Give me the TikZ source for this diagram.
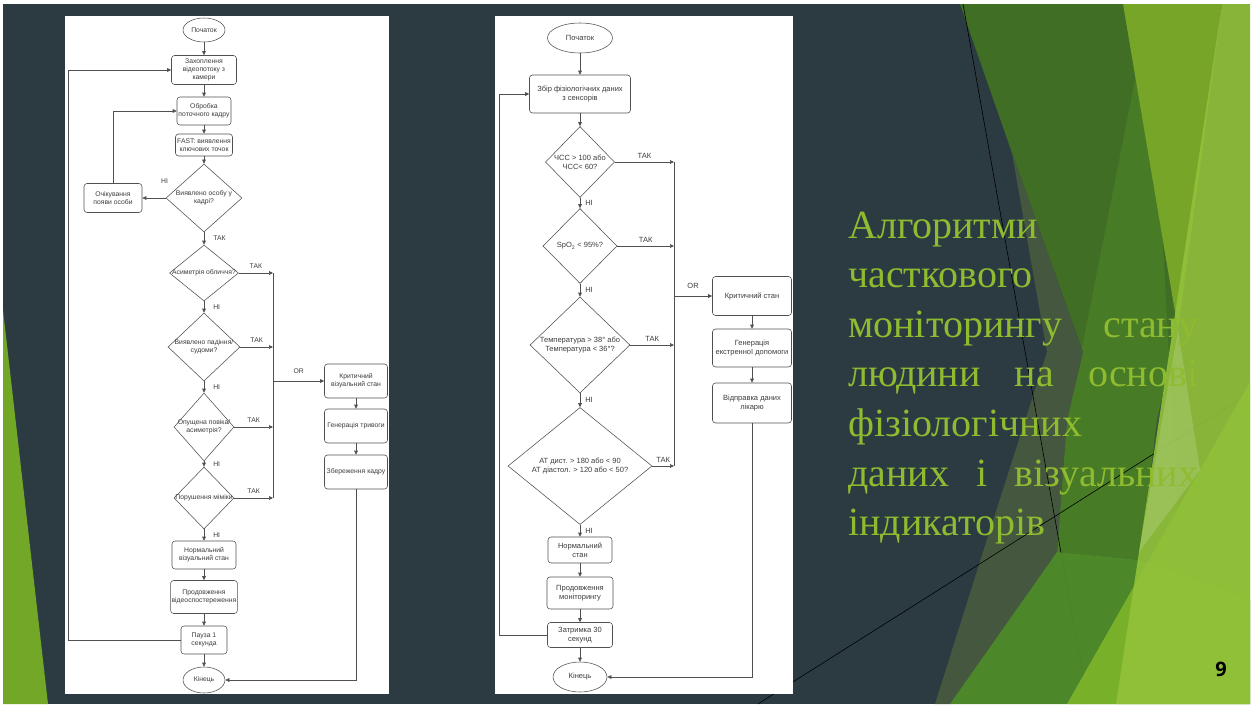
\documentclass[tikz,border=0pt]{standalone}
\usepackage{fontspec}
\setmainfont{Liberation Serif}
\newfontfamily\flowfont{Liberation Sans}
\newfontfamily\numfont{Open Sans}
\usetikzlibrary{arrows.meta}
\usetikzlibrary{shapes.geometric}
\tikzset{>={Stealth[inset=0pt,length=4pt,width=3.6pt]}}

\definecolor{slate}{HTML}{2C3B42}
\definecolor{facetdark}{HTML}{3F6E24}
\definecolor{facetgray}{HTML}{45583F}
\definecolor{facetmid}{HTML}{5C9A2A}
\definecolor{facetolive}{HTML}{76A527}
\definecolor{facetgrass}{HTML}{4F8E28}
\definecolor{facetlime}{HTML}{7DB52A}
\definecolor{facetlight}{HTML}{92C23A}
\definecolor{titlegreen}{HTML}{8FBB30}
\definecolor{flowgray}{HTML}{505050}
\definecolor{flowtext}{HTML}{3C3C3C}

\newcommand{\ctr}[1]{\makebox[0pt]{#1}}
\def\fs{6.8}
\def\fb{8}

\tikzset{
  flowbox/.style={draw=flowgray, line width=0.55pt, rounded corners=3pt, fill=white,
    inner sep=1pt, align=center, text=flowtext, font=\flowfont\fontsize{\fs}{\fb}\selectfont},
  terminal/.style={flowbox, ellipse, sharp corners},
  decision/.style={flowbox, diamond, sharp corners, inner sep=0pt},
  flowlbl/.style={font=\flowfont\fontsize{\fs}{\fb}\selectfont, text=flowtext, inner sep=1pt},
  flowarrow/.style={draw=flowgray, line width=0.55pt, ->},
  flowlink/.style={draw=flowgray, line width=0.55pt},
  titleline/.style={anchor=base west, inner sep=0pt, text=titlegreen,
    font=\fontsize{40}{49.6}\selectfont},
}

\begin{document}
\begin{tikzpicture}[x=1pt,y=-1pt]
    \useasboundingbox (0,0) rectangle (1258,704);
    % slide background
    \fill[white] (0,0) rectangle (1258,704);
    \fill[slate] (3,4) rectangle (1250,704);
    \fill[facetlime!92!black] (3,310) -- (48,704) -- (3,704) -- cycle;
    % facets on the right
    \fill[facetdark] (960,4) -- (1125,4) -- (1178,330) -- (1157,419) -- (1140,560)
        -- (1057,552) -- (1067,419) -- (1083,352) -- (1012,153) -- cycle;
    \fill[facetmid, fill opacity=0.3] (1150,4) -- (1180,560) -- (1040,560) -- cycle;
    \fill[facetgray] (1012,153) -- (1083,352) -- (1067,419) -- (1057,552) -- (950,704)
        -- (935,704) -- (983,552) -- (1047,352) -- cycle;
    \fill[facetolive] (1123,4) -- (1222,4) -- (1178,330) -- cycle;
    \draw[black, line width=0.6pt] (963,4) -- (1088,704);
    \draw[black, line width=0.6pt] (758,704) -- (1250,393);
    \fill[facetgrass, fill opacity=0.92] (950,704) -- (1057,552) -- (1140,560) -- (1250,600) -- (1250,704) -- cycle;
    \fill[facetlime, fill opacity=0.9] (1067,704) -- (1250,382) -- (1250,704) -- cycle;
    \fill[facetlight, fill opacity=0.9] (1222,4) -- (1250,4) -- (1250,704) -- (1116,704) -- cycle;
    \fill[white, fill opacity=0.15] (1178,330) -- (1200,470) -- (1139,552) -- cycle;
    % title
    \node[titleline] (ttl1) at (848,238) {Алгоритми};
    \node[titleline] (ttl2) at (848,287.6) {часткового};
    \node[titleline] (ttl3) at (848,337.2) {\hbox to 350pt{моніторингу\hfill стану}};
    \node[titleline] (ttl4) at (848,386.8) {\hbox to 350pt{людини\hfill на\hfill основі}};
    \node[titleline] (ttl5) at (848,436.4) {фізіологічних};
    \node[titleline] (ttl6) at (848,486) {\hbox to 350pt{даних\hfill і\hfill візуальних}};
    \node[titleline] (ttl7) at (848,535.6) {індикаторів};
    \node[font=\numfont\bfseries\fontsize{20}{24}\selectfont] (pagenum) at (1221,669) {9};

    % panels
    \fill[white] (65,16) rectangle (389,694);
    \fill[white] (495,16) rectangle (793,694);

    % visual indicators
    \node[terminal, minimum width=42pt, minimum height=24pt] (lstart) at (204,30) {Початок};
    \node[flowbox, minimum width=65pt, minimum height=29pt] (lcap) at (204,70) {Захоплення\\відеопотоку з\\камери};
    \node[flowbox, minimum width=54pt, minimum height=28pt] (lproc) at (204,111) {Обробка\\поточного кадру};
    \node[flowbox, minimum width=57pt, minimum height=22pt] (lfast) at (204,145) {FAST: виявлення\\ключових точок};
    \node[decision, minimum width=76pt, minimum height=68pt] (ldet) at (204,198) {\ctr{Виявлено особу у}\\\ctr{кадрі?}};
    \node[flowbox, minimum width=58pt, minimum height=29pt] (lwait) at (113,198) {Очікування\\появи особи};
    \node[decision, minimum width=69pt, minimum height=56pt] (lasym) at (204,273) {\ctr{Асиметрія обличчя?}};
    \node[decision, minimum width=72pt, minimum height=68pt] (lfall) at (204,347) {\ctr{Виявлено падіння/}\\\ctr{судоми?}};
    \node[decision, minimum width=60pt, minimum height=68pt] (llid) at (204,427) {\ctr{Опущена повіка/}\\\ctr{асиметрія?}};
    \node[decision, minimum width=60pt, minimum height=62pt] (lmim) at (204,498) {\ctr{Порушення міміки}};
    \node[flowbox, minimum width=64pt, minimum height=28pt] (lnorm) at (204,555) {Нормальний\\візуальний стан};
    \node[flowbox, minimum width=64pt, minimum height=33pt] (lcont) at (204,597) {Продовження\\відеоспостереження};
    \node[flowbox, minimum width=46pt, minimum height=28pt] (lpause) at (204,640) {Пауза 1\\секунда};
    \node[terminal, minimum width=42pt, minimum height=26pt] (lend) at (204,680) {Кінець};
    \node[flowbox, minimum width=63pt, minimum height=34pt] (lcrit) at (356,381) {Критичний\\візуальний стан};
    \node[flowbox, minimum width=63pt, minimum height=34pt] (lalarm) at (356,426) {Генерація тривоги};
    \node[flowbox, minimum width=63pt, minimum height=34pt] (lsave) at (356,472) {Збереження кадру};
    \coordinate (lbus) at (273,273);
    \coordinate (lbusend) at (273,498);
    \coordinate (lloop) at (68,640);

    \draw[flowarrow] (lstart) -- (lcap);
    \draw[flowarrow] (lcap) -- (lproc);
    \draw[flowarrow] (lproc) -- (lfast);
    \draw[flowarrow] (lfast) -- (ldet);
    \draw[flowarrow] (ldet.west) -- node[flowlbl, pos=0.05, above=13pt]{НІ} (lwait.east);
    \draw[flowarrow] (lwait.north) |- (lproc.west);
    \draw[flowarrow] (ldet.south) -- node[flowlbl, midway, right=8pt]{ТАК} (lasym.north);
    \draw[flowarrow] (lasym.south) -- node[flowlbl, midway, right=8pt]{НІ} (lfall.north);
    \draw[flowarrow] (lfall.south) -- node[flowlbl, midway, right=8pt]{НІ} (llid.north);
    \draw[flowarrow] (llid.south) -- node[flowlbl, midway, right=8pt]{НІ} (lmim.north);
    \draw[flowarrow] (lmim.south) -- node[flowlbl, midway, right=8pt]{НІ} (lnorm.north);
    \draw[flowarrow] (lasym.east) -- node[flowlbl, above=3pt]{ТАК} (lasym.east -| lbus);
    \draw[flowarrow] (lfall.east) -- node[flowlbl, above=3pt]{ТАК} (lfall.east -| lbus);
    \draw[flowarrow] (llid.east) -- node[flowlbl, above=3pt]{ТАК} (llid.east -| lbus);
    \draw[flowarrow] (lmim.east) -- node[flowlbl, above=3pt]{ТАК} (lmim.east -| lbus);
    \draw[flowlink] (lbus) -- (lbusend);
    \draw[flowarrow] (lcrit.west -| lbus) -- node[flowlbl, above=6pt]{OR} (lcrit.west);
    \draw[flowarrow] (lcrit) -- (lalarm);
    \draw[flowarrow] (lalarm) -- (lsave);
    \draw[flowarrow] (lsave.south) |- (lend.east);
    \draw[flowarrow] (lnorm) -- (lcont);
    \draw[flowarrow] (lcont) -- (lpause);
    \draw[flowarrow] (lpause) -- (lend);
    \draw[flowarrow] (lpause.west) -- (lloop) |- (lcap.west);

    % physiological data
    \def\fs{7.5}
    \def\fb{8.8}
    \node[terminal, minimum width=65pt, minimum height=30pt] (rstart) at (580,38) {Початок};
    \node[flowbox, minimum width=101pt, minimum height=38pt] (rcol) at (580,94) {Збір фізіологічних даних\\з сенсорів};
    \node[decision, minimum width=69pt, minimum height=71pt] (rhr) at (580,162) {\ctr{ЧСС > 100 або}\\\ctr{ЧСС< 60?}};
    \node[decision, minimum width=74pt, minimum height=75pt] (rspo) at (580,246) {\ctr{SpO\textsubscript{2} < 95\%?}};
    \node[decision, minimum width=100pt, minimum height=96pt] (rtemp) at (580,345) {\ctr{Температура > 38° або}\\\ctr{Температура < 36°?}};
    \node[decision, minimum width=144pt, minimum height=117pt] (rbp) at (580,466) {\ctr{АТ дист. > 180 або < 90}\\\ctr{АТ діастол. > 120 або < 50?}};
    \node[flowbox, minimum width=64pt, minimum height=26pt] (rnorm) at (580,550) {Нормальний\\стан};
    \node[flowbox, minimum width=66pt, minimum height=32pt] (rcont) at (580,593) {Продовження\\моніторингу};
    \node[flowbox, minimum width=65pt, minimum height=25pt] (rdelay) at (580,635) {Затримка 30\\секунд};
    \node[terminal, minimum width=54pt, minimum height=30pt] (rend) at (580,677) {Кінець};
    \node[flowbox, minimum width=79pt, minimum height=39pt] (rcrit) at (752,296) {Критичний стан};
    \node[flowbox, minimum width=79pt, minimum height=38pt] (rhelp) at (752,348) {Генерація\\екстренної допомоги};
    \node[flowbox, minimum width=79pt, minimum height=40pt] (rsend) at (752,403) {Відправка даних\\лікарю};
    \coordinate (rbus) at (674,162);
    \coordinate (rbusend) at (674,466);
    \coordinate (rloop) at (499,635);

    \draw[flowarrow] (rstart) -- (rcol);
    \draw[flowarrow] (rcol) -- (rhr);
    \draw[flowarrow] (rhr.south) -- node[flowlbl, midway, right=4pt]{НІ} (rspo.north);
    \draw[flowarrow] (rspo.south) -- node[flowlbl, midway, right=4pt]{НІ} (rtemp.north);
    \draw[flowarrow] (rtemp.south) -- node[flowlbl, midway, right=4pt]{НІ} (rbp.north);
    \draw[flowarrow] (rbp.south) -- node[flowlbl, midway, right=4pt]{НІ} (rnorm.north);
    \draw[flowarrow] (rhr.east) -- node[flowlbl, above=2pt]{ТАК} (rhr.east -| rbus);
    \draw[flowarrow] (rspo.east) -- node[flowlbl, above=2pt]{ТАК} (rspo.east -| rbus);
    \draw[flowarrow] (rtemp.east) -- node[flowlbl, above=2pt]{ТАК} (rtemp.east -| rbus);
    \draw[flowarrow] (rbp.east) -- node[flowlbl, above=2pt]{ТАК} (rbp.east -| rbus);
    \draw[flowlink] (rbus) -- (rbusend);
    \draw[flowarrow] (rcrit.west -| rbus) -- node[flowlbl, above=6pt]{OR} (rcrit.west);
    \draw[flowarrow] (rcrit) -- (rhelp);
    \draw[flowarrow] (rhelp) -- (rsend);
    \draw[flowarrow] (rsend.south) |- (rend.east);
    \draw[flowarrow] (rnorm) -- (rcont);
    \draw[flowarrow] (rcont) -- (rdelay);
    \draw[flowarrow] (rdelay) -- (rend);
    \draw[flowarrow] (rdelay.west) -- (rloop) |- (rcol.west);
\end{tikzpicture}
\end{document}
